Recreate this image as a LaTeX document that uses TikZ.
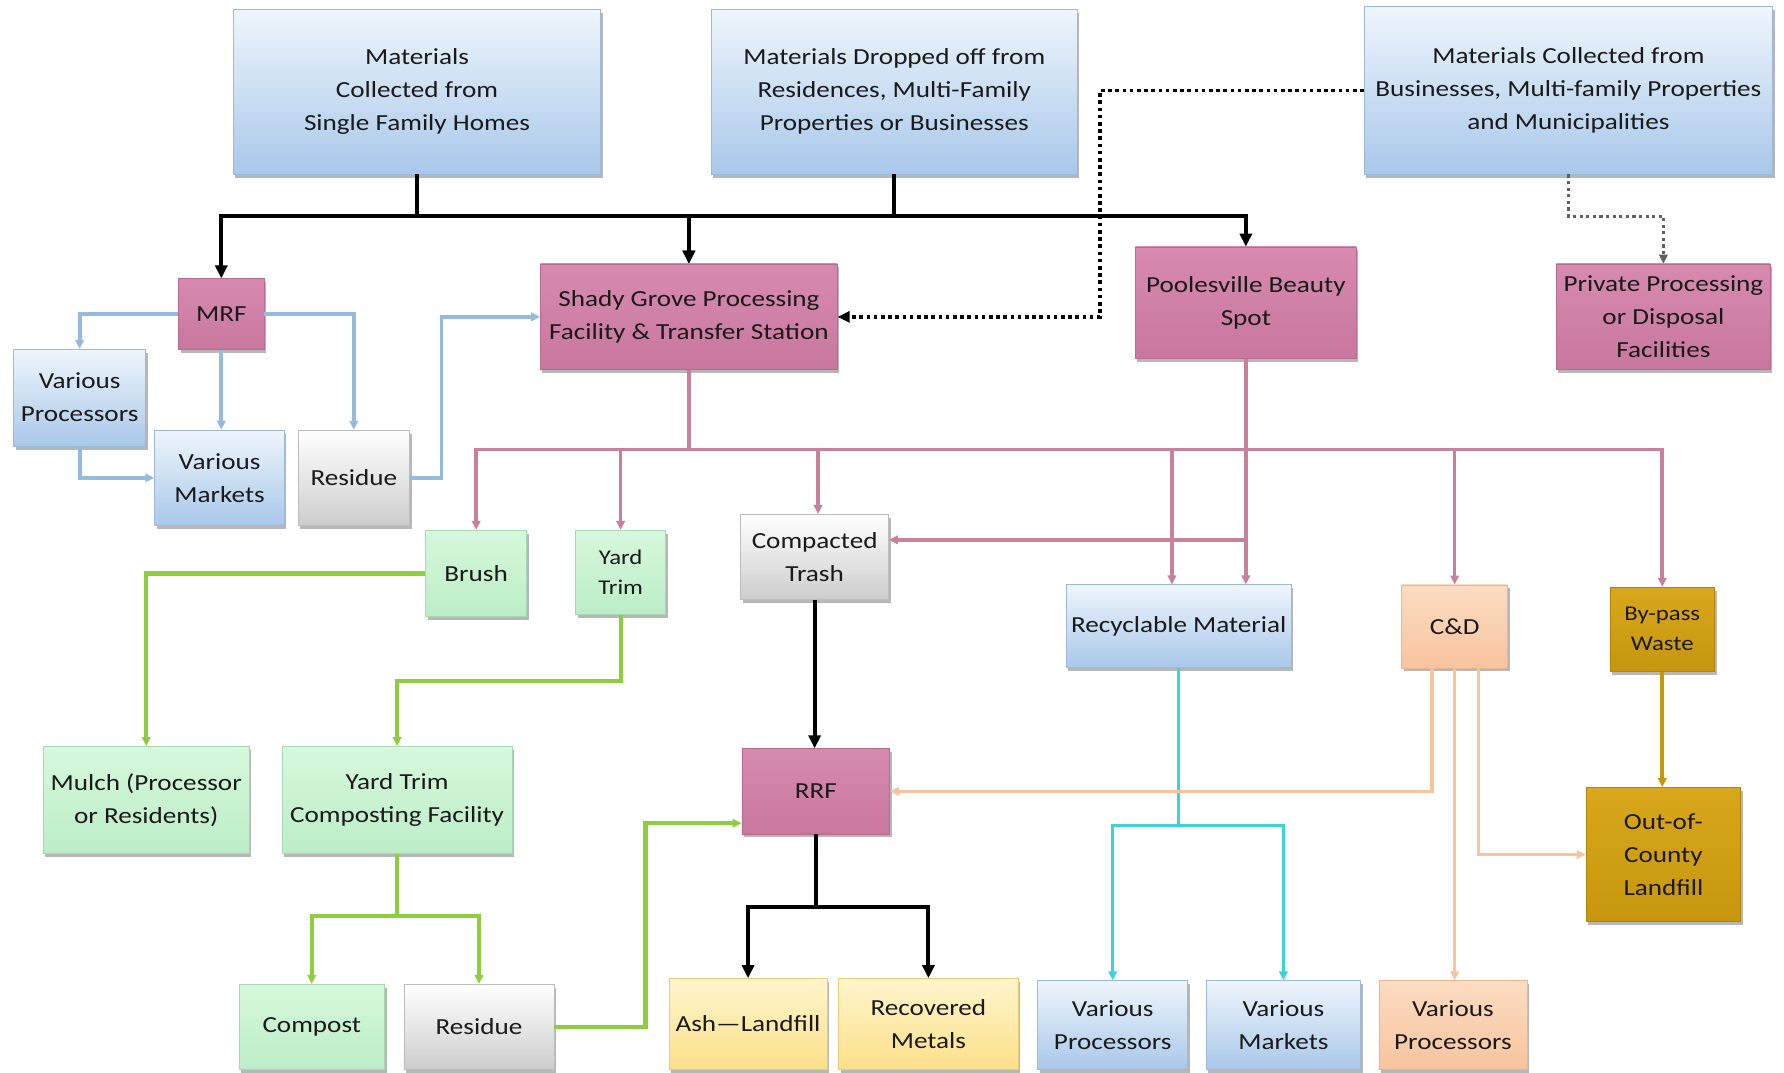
\documentclass[tikz,border=0pt]{standalone}
\usepackage{fontspec}
\setmainfont[FakeStretch=1.18]{Carlito}
\usetikzlibrary{arrows.meta,shadows,calc}
\definecolor{txt}{HTML}{1A1A1A}
\definecolor{bT}{HTML}{EEF5FC}
\definecolor{bB}{HTML}{A9C8EA}
\definecolor{bD}{HTML}{9DB9D6}
\definecolor{pT}{HTML}{D78AAF}
\definecolor{pB}{HTML}{C8779E}
\definecolor{pD}{HTML}{B96A8F}
\definecolor{gT}{HTML}{D6F8DC}
\definecolor{gB}{HTML}{BCEDC7}
\definecolor{gD}{HTML}{A8D8B2}
\definecolor{kT}{HTML}{FFFFFF}
\definecolor{kB}{HTML}{CDCDCD}
\definecolor{kD}{HTML}{BDBDBD}
\definecolor{cT}{HTML}{FCDCC2}
\definecolor{cB}{HTML}{F7C49E}
\definecolor{cD}{HTML}{E8B690}
\definecolor{yT}{HTML}{FFF5CC}
\definecolor{yB}{HTML}{FCE08A}
\definecolor{yD}{HTML}{EACD78}
\definecolor{oT}{HTML}{D8A71C}
\definecolor{oB}{HTML}{C6960E}
\definecolor{oD}{HTML}{B0850A}
\definecolor{lbC}{HTML}{96BADB}
\definecolor{pkC}{HTML}{C8809F}
\definecolor{grC}{HTML}{8DCD3E}
\definecolor{cyC}{HTML}{3CD4D8}
\definecolor{pcC}{HTML}{F7C4A2}
\definecolor{gdC}{HTML}{C49A0C}
\definecolor{dgC}{HTML}{606060}
\begin{document}
\begin{tikzpicture}[x=1.1378pt,y=-1.1378pt,
  box/.style={align=center, inner sep=1pt, text=txt,
    font=\fontsize{23}{33}\selectfont,
    drop shadow={shadow xshift=2pt, shadow yshift=-3.5pt, opacity=0.4, fill=black!70}},
  sz/.style 2 args={minimum width=#1*1.1378pt, minimum height=#2*1.1378pt},
  blu/.style={box, top color=bT, bottom color=bB, draw=bD, line width=0.8pt},
  pnk/.style={box, top color=pT, bottom color=pB, draw=pD, line width=0.6pt},
  grn/.style={box, top color=gT, bottom color=gB, draw=gD, line width=0.6pt},
  gry/.style={box, top color=kT, bottom color=kB, draw=kD, line width=0.6pt},
  pch/.style={box, top color=cT, bottom color=cB, draw=cD, line width=0.6pt},
  yel/.style={box, top color=yT, bottom color=yB, draw=yD, line width=0.6pt},
  gld/.style={box, top color=oT, bottom color=oB, draw=oD, line width=0.6pt},
  small/.style={font=\fontsize{21}{30}\selectfont},
  blk/.style={draw=black, line width=4pt},
  tipB/.style={-{Triangle[length=13pt,width=12pt]}},
  tipS/.style={-{Triangle[length=9pt,width=8.5pt]}},
  lb/.style={draw=lbC, line width=3.8pt},
  pk/.style={draw=pkC, line width=3.6pt},
  gr/.style={draw=grC, line width=4.2pt},
  cy/.style={draw=cyC, line width=2.8pt},
  pc/.style={draw=pcC, line width=3.6pt},
  gd/.style={draw=gdC, line width=3.6pt},
  dotblk/.style={draw=black, line width=3.6pt, dash pattern=on 3.6pt off 3.6pt},
  dotgry/.style={draw=dgC, line width=3.2pt, dash pattern=on 3.2pt off 3.4pt}
]
\path[use as bounding box, fill=white] (0,0) rectangle (1568,943);

% top sources
\node[blu, sz={323}{145}] (b1) at (366.5,80.5) {Materials\\Collected from\\Single Family Homes};
\node[blu, sz={322}{145}] (b2) at (786,80.5) {Materials Dropped off from\\Residences, Multi-Family\\Properties or Businesses};
\node[blu, sz={359}{147}] (b3) at (1378.5,79.5) {Materials Collected from\\Businesses, Multi-family Properties\\and Municipalities};

% facilities
\node[pnk, sz={75}{62}] (mrf) at (194.5,276) {MRF};
\node[pnk, sz={261}{93}] (shady) at (605.5,278.5) {Shady Grove Processing\\Facility \& Transfer Station};
\node[pnk, sz={194}{98}] (poole) at (1095,266) {Poolesville Beauty\\Spot};
\node[pnk, sz={188}{93}] (priv) at (1462,278.5) {Private Processing\\or Disposal\\Facilities};

% MRF outputs
\node[blu, sz={116}{85}] (vp1) at (70,349.5) {Various\\Processors};
\node[blu, sz={114}{84}] (vm1) at (193,420) {Various\\Markets};
\node[gry, sz={98}{84}] (res1) at (311,420) {Residue};

% streams
\node[grn, sz={89}{76}] (brush) at (418.5,504) {Brush};
\node[grn, small, sz={79}{74}] (ytrim) at (545.5,503) {Yard\\Trim};
\node[gry, sz={130}{75}] (ctrash) at (716,489.5) {Compacted\\Trash};
\node[blu, sz={198}{73}] (recyc) at (1036,550.5) {Recyclable Material};
\node[pch, sz={93}{73}] (cd) at (1278.5,550.5) {C\&D};
\node[gld, small, sz={92}{74}] (bypass) at (1461,553) {By-pass\\Waste};

% second level
\node[grn, sz={181}{94}] (mulch) at (128.5,703) {Mulch (Processor\\or Residents)};
\node[grn, sz={202}{94}] (ytcf) at (349,703) {Yard Trim\\Composting Facility};
\node[pnk, sz={130}{75}] (rrf) at (717,695.5) {RRF};
\node[gld, sz={136}{118}] (ooc) at (1462,751) {Out-of-\\County\\Landfill};

% bottom row
\node[grn, sz={128}{75}] (compost) at (274,902.5) {Compost};
\node[gry, sz={132}{75}] (res2) at (421,902.5) {Residue};
\node[yel, sz={139}{80}] (ash) at (657.5,900) {Ash—Landfill};
\node[yel, sz={158}{80}] (metals) at (816,900) {Recovered\\Metals};
\node[blu, sz={132}{78}] (vp2) at (978,901) {Various\\Processors};
\node[blu, sz={136}{78}] (vm2) at (1128,901) {Various\\Markets};
\node[pch, sz={130}{78}] (vp3) at (1277,901) {Various\\Processors};

% helper coordinates
\coordinate (jt) at (0,190);
\coordinate (ph) at (0,395);
\coordinate (dv) at (967,0);
\coordinate (rv) at (388,0);

% black collection lines
\draw[blk,tipB] (b1.south) -- (b1.south |- jt) -| (mrf.north);
\draw[blk,tipB] (b1.south) -- (b1.south |- jt) -| (shady.north);
\draw[blk,tipB] (b2.south) -- (b2.south |- jt) -| (shady.north);
\draw[blk,tipB] (b2.south) -- (b2.south |- jt) -| (poole.north);

% dotted lines
\draw[dotblk,-{Triangle[length=12pt,width=11pt]}] (b3.west) -- (b3.west -| dv) -- (dv |- shady.east) -- (shady.east);
\draw[dotgry,tipS] (b3.south) -- (b3.south |- jt) -| (priv.north);

% MRF light blue
\draw[lb,tipS] (mrf.west) -| (vp1.north);
\draw[lb,tipS] (mrf.east) -| (res1.north);
\draw[lb,tipS] (mrf.south) -- (mrf.south |- vm1.north);
\draw[lb,tipS] (vp1.south) |- (vm1.west);
\draw[lb,tipS] (res1.east) -- (res1.east -| rv) -- (rv |- shady.west) -- (shady.west);

% pink distribution
\draw[pk,tipS] (shady.south) -- (shady.south |- ph) -| (brush.north);
\draw[pk,tipS] (shady.south) -- (shady.south |- ph) -| (ytrim.north);
\draw[pk,tipS] (shady.south) -- (shady.south |- ph) -| ($(ctrash.north)+(3,0)$);
\draw[pk,tipS] (shady.south) -- (shady.south |- ph) -| ($(recyc.north)+(-6,0)$);
\draw[pk,tipS] (shady.south) -- (shady.south |- ph) -| (cd.north);
\draw[pk,tipS] (shady.south) -- (shady.south |- ph) -| (bypass.north);
\draw[pk,tipS] (poole.south) -- (poole.south |- recyc.north);
\draw[pk,tipS] (poole.south) -- ($(poole.south |- ctrash.east)+(0,-15)$) -- ($(ctrash.east)+(0,-15)$);

% green
\draw[gr,tipS] (brush.west) -| (mulch.north);
\draw[gr,tipS] (ytrim.south) -- ($(ytrim.south)+(0,58)$) -| (ytcf.north);
\draw[gr,tipS] (ytcf.south) -- ($(ytcf.south)+(0,55)$) -| (compost.north);
\draw[gr,tipS] (ytcf.south) -- ($(ytcf.south)+(0,55)$) -| (res2.north);
\draw[gr,tipS] (res2.east) -- ($(res2.east)+(80,0)$) |- ($(rrf.west)+(0,28)$);

% black RRF
\draw[blk,tipB] (ctrash.south) -- (ctrash.south |- rrf.north);
\draw[blk,tipB] (rrf.south) -- ($(rrf.south)+(0,64)$) -| (ash.north);
\draw[blk,tipB] (rrf.south) -- ($(rrf.south)+(0,64)$) -| (metals.north);

% cyan
\draw[cy,tipS] (recyc.south) -- ($(recyc.south)+(0,138)$) -| (vp2.north);
\draw[cy,tipS] (recyc.south) -- ($(recyc.south)+(0,138)$) -| (vm2.north);

% peach
\draw[pc,tipS] ($(cd.south)+(-20,0)$) |- (rrf.east);
\draw[pc,tipS] (cd.south) -- (cd.south |- vp3.north);
\draw[pc,tipS] ($(cd.south)+(21,0)$) |- (ooc.west);

% gold
\draw[gd,tipS] (bypass.south) -- (bypass.south |- ooc.north);
\end{tikzpicture}
\end{document}
